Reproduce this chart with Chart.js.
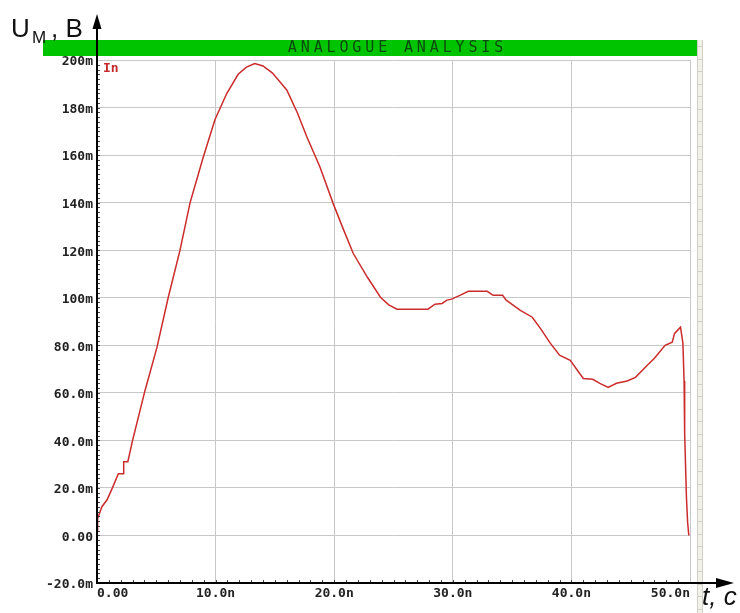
<!DOCTYPE html>
<html>
<head>
<meta charset="utf-8">
<script src="https://cdn.jsdelivr.net/npm/chart.js@4"></script>
<style>
html,body{margin:0;padding:0;background:#fff;}
#wrap{width:740px;height:613px;}
</style>
</head>
<body>
<div id="wrap"><canvas id="c" width="740" height="613"></canvas></div>
<script>
// time, ns
const timeNs = [0,0.05,0.4,0.85,1.3,1.8,2.2,2.25,2.6,3.0,4.05,5.05,6.0,7.0,7.85,8.95,9.95,10.95,11.9,12.6,13.3,14.0,14.8,16.0,16.9,17.7,18.8,19.9,20.7,21.6,22.8,23.9,24.6,25.3,27.9,28.5,29.1,29.5,29.9,30.6,31.3,32.9,33.4,34.2,34.5,35.7,36.7,37.4,38.2,39.0,39.9,41.0,41.8,42.4,43.1,43.8,44.7,45.4,46.4,47.0,47.9,48.5,48.7,49.2,49.4,49.5,49.55,49.7,49.8,49.9];
// voltage, mV
const voltMv = [2,7,12,15,20,26,26,31,31,40,61,79,100,120,140,159,175,186,194,197,198.5,197.5,194.5,187.4,177.7,167.6,155,139.8,129.7,118.7,108.6,100.2,97,95.2,95.2,97.3,97.6,99,99.4,101,102.7,102.7,101,101,99,94.7,91.8,87,81,75.8,73.7,66,65.7,64,62.3,64,65,66.5,71.6,74.5,80,81.3,85,87.6,81,65,43,16,5.5,0];
const xTickLabels = ['0.00','10.0n','20.0n','30.0n','40.0n','50.0n'];
const yTickLabels = ['-20.0m','0.00','20.0m','40.0m','60.0m','80.0m','100m','120m','140m','160m','180m','200m'];
const seriesName = 'In';
const chartTitle = 'ANALOGUE ANALYSIS';

const points = timeNs.map((t,i)=>({x:t,y:voltMv[i]}));
const tickFont = {family:'"DejaVu Sans Mono", monospace', size:13, weight:'bold'};

const decor = {
  id:'decor',
  beforeDraw(chart){
    const ctx = chart.ctx;
    ctx.save();
    ctx.fillStyle = '#fff';
    ctx.fillRect(0,0,chart.width,chart.height);
    ctx.restore();
  },
  afterDraw(chart){
    const ctx = chart.ctx;
    const a = chart.chartArea;
    const xs = chart.scales.x, ys = chart.scales.y;
    ctx.save();
    // right ruler
    const rx = a.right + 7;
    ctx.fillStyle = '#f2f2ea';
    ctx.fillRect(rx, a.top - 20, 5, chart.height - a.top + 20);
    ctx.strokeStyle = '#d0d0c4';
    ctx.lineWidth = 1;
    ctx.beginPath();
    ctx.moveTo(rx+0.5, a.top-20); ctx.lineTo(rx+0.5, chart.height);
    ctx.moveTo(rx+5.5, a.top-20); ctx.lineTo(rx+5.5, chart.height);
    for (let y = a.top - 14; y < chart.height; y += 12.5) {
      ctx.moveTo(rx+1, Math.round(y)+0.5); ctx.lineTo(rx+5, Math.round(y)+0.5);
    }
    ctx.stroke();
    // green title bar
    ctx.fillStyle = '#00c400';
    ctx.fillRect(43, a.top - 20, rx - 43, 16);
    ctx.fillStyle = '#0d4a0d';
    ctx.font = '15px "DejaVu Sans Mono", monospace';
    ctx.textBaseline = 'middle';
    ctx.textAlign = 'left';
    const step = 12.9;
    const tw = step * chartTitle.length;
    let tx = (a.left + a.right)/2 - tw/2 + 4;
    for (const ch of chartTitle) { ctx.fillText(ch, tx, a.top - 11.5); tx += step; }
    // minor ticks
    ctx.strokeStyle = '#444';
    ctx.lineWidth = 1;
    ctx.beginPath();
    for (let t = 1; t < 50; t++) {
      const px = Math.round(xs.getPixelForValue(t)) + 0.5;
      ctx.moveTo(px, a.bottom - 3); ctx.lineTo(px, a.bottom);
    }
    for (let v = -18; v < 200; v += 2) {
      const py = Math.round(ys.getPixelForValue(v)) + 0.5;
      ctx.moveTo(a.left, py); ctx.lineTo(a.left + 3, py);
    }
    ctx.stroke();
    // axes with arrows
    ctx.strokeStyle = '#000';
    ctx.fillStyle = '#000';
    ctx.lineWidth = 2;
    ctx.beginPath();
    ctx.moveTo(a.left, a.bottom + 1); ctx.lineTo(a.left, 22);
    ctx.moveTo(a.left - 1, a.bottom); ctx.lineTo(724, a.bottom);
    ctx.stroke();
    ctx.beginPath();
    ctx.moveTo(a.left, 14); ctx.lineTo(a.left - 4.5, 29); ctx.lineTo(a.left + 4.5, 29); ctx.closePath();
    ctx.fill();
    ctx.beginPath();
    ctx.moveTo(734, a.bottom); ctx.lineTo(716, a.bottom - 5); ctx.lineTo(716, a.bottom + 5); ctx.closePath();
    ctx.fill();
    // series label
    ctx.fillStyle = '#c42a2a';
    ctx.font = 'bold 13px "DejaVu Sans Mono", monospace';
    ctx.textBaseline = 'top';
    ctx.fillText(seriesName, a.left + 6, a.top + 2);
    // axis titles
    ctx.fillStyle = '#111';
    ctx.textBaseline = 'alphabetic';
    ctx.font = '26px "Liberation Sans", Arial, sans-serif';
    ctx.fillText('U', 11, 37);
    ctx.font = '17px "Liberation Sans", Arial, sans-serif';
    ctx.fillText('M', 32, 43);
    ctx.font = '26px "Liberation Sans", Arial, sans-serif';
    ctx.fillText(', B', 51, 37);
    ctx.font = 'italic 26px "Liberation Sans", Arial, sans-serif';
    ctx.fillText('t, c', 702, 605);
    ctx.restore();
  }
};

new Chart(document.getElementById('c'), {
  type: 'line',
  data: {
    datasets: [{
      label: seriesName,
      data: points,
      borderColor: '#cc2b2b',
      borderWidth: 1.5,
      pointRadius: 0,
      tension: 0,
      fill: false
    }]
  },
  options: {
    responsive: false,
    animation: false,
    devicePixelRatio: 1,
    layout: { padding: { left: 37, right: 50, top: 60, bottom: 0 } },
    plugins: { legend: { display: false }, tooltip: { enabled: false }, title: { display: false } },
    scales: {
      x: {
        type: 'linear',
        min: 0, max: 50,
        afterFit(s){ s.height = 30; },
        ticks: {
          stepSize: 10,
          align: 'inner',
          padding: 3,
          color: '#222',
          font: tickFont,
          maxRotation: 0,
          callback: (v) => xTickLabels[Math.round(v/10)] ?? ''
        },
        grid: { color: '#c8c8c8', lineWidth: 1, drawTicks: false },
        border: { display: false }
      },
      y: {
        type: 'linear',
        min: -20, max: 200,
        afterFit(s){ s.width = 60; },
        ticks: {
          stepSize: 20,
          padding: 4,
          labelOffset: 2,
          color: '#222',
          font: tickFont,
          callback: (v) => yTickLabels[Math.round((v + 20)/20)] ?? ''
        },
        grid: { color: '#c8c8c8', lineWidth: 1, drawTicks: false },
        border: { display: false }
      }
    }
  },
  plugins: [decor]
});
</script>
</body>
</html>
